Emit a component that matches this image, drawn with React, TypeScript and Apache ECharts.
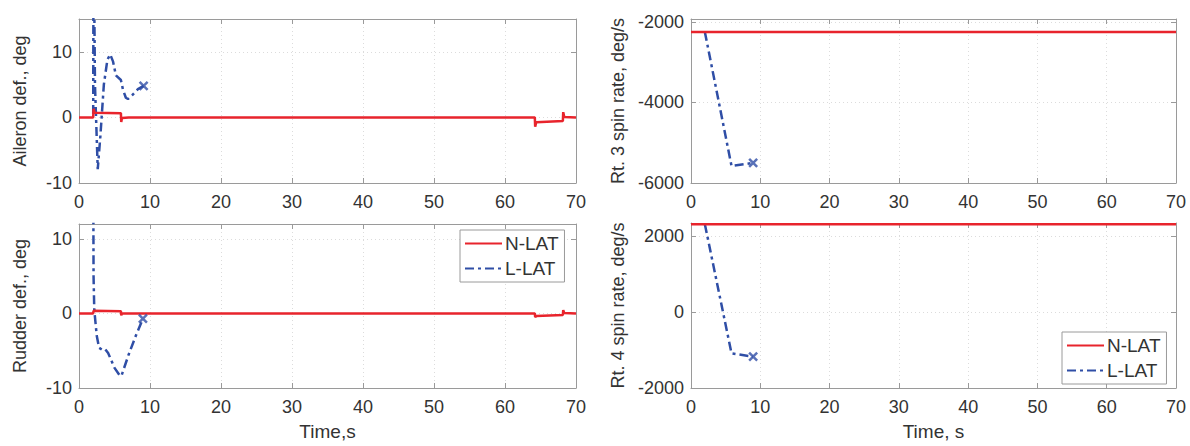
import React, { useEffect, useRef } from "react";
import * as echarts from "echarts";

type P = [number, number];

const X_MIN = 0;
const X_MAX = 70;
const X_INTERVAL = 10;

const aileronNLAT: P[] = [
  [0, 0], [2, 0], [2.05, 1.3], [2.2, 0.7], [5.9, 0.65], [5.95, -0.7], [6.05, -0.1],
  [7, 0], [64.2, 0], [64.25, -1.4], [64.4, -0.75], [68.15, -0.55], [68.2, 0.8],
  [68.35, 0.05], [70, 0],
];
const aileronLLAT: P[] = [
  [2.0, 0.5], [2.05, 30], [2.25, 5], [2.64, -7.9], [3.0, -3], [3.5, 5], [4.0, 8.8],
  [4.4, 9.6], [4.8, 8.5], [5.2, 6.4], [5.9, 5.7], [6.2, 4.2], [6.6, 3.0], [6.9, 2.8],
  [7.5, 3.4], [8.3, 4.3], [9.1, 4.8],
];
const rudderNLAT: P[] = [
  [0, 0], [2, 0], [2.05, 0.35], [5.9, 0.3], [5.95, -0.25], [6.05, 0], [64.2, 0],
  [64.25, -0.5], [64.4, -0.35], [68.15, -0.2], [68.2, 0.45], [68.35, 0.05], [70, 0],
];
const rudderLLAT: P[] = [
  [1.95, 40], [2.05, 5], [2.15, 0.5], [2.5, -3], [2.83, -4.6], [3.3, -4.9], [3.7, -4.8],
  [4.1, -5.3], [5.0, -7.3], [5.8, -8.4], [6.0, -8.3], [7.0, -5.5], [8.0, -3], [9.0, -0.7],
];
const rt3NLAT: P[] = [[0, -2250], [70, -2250]];
const rt3LLAT: P[] = [[2, -2250], [5.85, -5580], [8.97, -5500]];
const rt4NLAT: P[] = [[0, 2310], [70, 2310]];
const rt4LLAT: P[] = [[2, 2310], [5.85, -1090], [8.97, -1175]];

const yNames = ["Aileron def., deg", "Rudder def., deg", "Rt. 3 spin rate, deg/s", "Rt. 4 spin rate, deg/s"];
const xNames = ["", "Time,s", "", "Time, s"];
const yMins = [-10, -10, -6000, -2000];
const yMaxs = [15, 12, -1930, 2340];
const yIntervals = [10, 10, 2000, 2000];
const legendNames = ["N-LAT", "L-LAT"];

const RED = "#e8242c";
const BLUE = "#2f4ea6";
const TEXT = "#333333";
const AXIS = "#9a9a9a";
const FONT = "Liberation Sans";

export default function App() {
  const ref = useRef<HTMLDivElement>(null);
  useEffect(() => {
    if (!ref.current) return;
    const chart = echarts.init(ref.current, undefined, { renderer: "svg" });
    const grids = [
      { left: 79, top: 19, width: 497, height: 164 },
      { left: 79, top: 224, width: 497, height: 164 },
      { left: 691, top: 19, width: 485, height: 164 },
      { left: 691, top: 223, width: 485, height: 165 },
    ];
    const yGaps = [50, 50, 64, 64];
    const xAxes: any[] = [];
    const yAxes: any[] = [];
    for (let i = 0; i < 4; i++) {
      xAxes.push({
        type: "value", gridIndex: i, min: X_MIN, max: X_MAX, interval: X_INTERVAL,
        name: xNames[i], nameLocation: "middle", nameGap: 34,
        nameTextStyle: { color: TEXT, fontSize: 19, fontFamily: FONT },
        axisLine: { show: true, onZero: false, lineStyle: { color: AXIS, width: 1 } },
        axisTick: { show: true, inside: true, length: 5, lineStyle: { color: AXIS } },
        axisLabel: { color: TEXT, fontSize: 18, fontFamily: FONT, margin: 10 },
        splitLine: { show: true, lineStyle: { color: "#dcdcdc", type: [1, 3], width: 1 } },
      });
      const iv = yIntervals[i];
      yAxes.push({
        type: "value", gridIndex: i, min: yMins[i], max: yMaxs[i], interval: iv,
        name: yNames[i], nameLocation: "middle", nameRotate: 90, nameGap: yGaps[i],
        nameTextStyle: { color: TEXT, fontSize: 18, fontFamily: FONT },
        axisLine: { show: true, onZero: false, lineStyle: { color: AXIS, width: 1 } },
        axisTick: { show: true, inside: true, length: 5, lineStyle: { color: AXIS } },
        axisLabel: {
          color: TEXT, fontSize: 18, fontFamily: FONT, margin: 7,
          formatter: (v: number) => (Math.abs(v % iv) < 1e-9 ? String(v) : ""),
        },
        splitLine: { show: true, lineStyle: { color: "#dcdcdc", type: [1, 3], width: 1 } },
      });
    }
    for (let i = 0; i < 4; i++) {
      xAxes.push({
        type: "value", gridIndex: i, position: "top", min: X_MIN, max: X_MAX, interval: X_INTERVAL,
        axisLine: { show: true, onZero: false, lineStyle: { color: AXIS, width: 1 } },
        axisTick: { show: true, inside: true, length: 5, lineStyle: { color: AXIS } },
        axisLabel: { show: false }, splitLine: { show: false },
      });
      yAxes.push({
        type: "value", gridIndex: i, position: "right", min: yMins[i], max: yMaxs[i], interval: yIntervals[i],
        axisLine: { show: true, onZero: false, lineStyle: { color: AXIS, width: 1 } },
        axisTick: { show: true, inside: true, length: 5, lineStyle: { color: AXIS } },
        axisLabel: { show: false }, splitLine: { show: false },
      });
    }
    const nlat = [aileronNLAT, rudderNLAT, rt3NLAT, rt4NLAT];
    const llat = [aileronLLAT, rudderLLAT, rt3LLAT, rt4LLAT];
    const series: any[] = [];
    for (let i = 0; i < 4; i++) {
      series.push({
        name: legendNames[1], type: "line", xAxisIndex: i, yAxisIndex: i, data: llat[i],
        symbol: "none", clip: true, z: 2,
        lineStyle: { color: BLUE, width: 2.5, type: [9, 4, 3, 4] }, itemStyle: { color: BLUE },
      });
      series.push({
        name: legendNames[0], type: "line", xAxisIndex: i, yAxisIndex: i, data: nlat[i],
        symbol: "none", clip: true, z: 3,
        lineStyle: { color: RED, width: 2.5, type: "solid" }, itemStyle: { color: RED },
      });
      const last = llat[i][llat[i].length - 1];
      series.push({
        name: "end" + i, type: "scatter", xAxisIndex: i, yAxisIndex: i, data: [last],
        symbol: "path://M0,0L10,10M10,0L0,10", symbolSize: 8, z: 4,
        itemStyle: { color: "transparent", borderColor: BLUE, borderWidth: 2.5 },
      });
    }
    const legendBase = {
      orient: "vertical", data: legendNames, itemWidth: 37, itemHeight: 14, itemGap: 6,
      backgroundColor: "#ffffff", borderColor: AXIS, borderWidth: 1, borderRadius: 0,
      padding: [4, 6, 4, 4], selectedMode: false,
      itemStyle: { opacity: 0 },
      textStyle: { color: TEXT, fontSize: 19, fontFamily: FONT, padding: [0, 0, 0, -2] },
    };
    chart.setOption({
      animation: false,
      backgroundColor: "#ffffff",
      grid: grids,
      xAxis: xAxes,
      yAxis: yAxes,
      legend: [
        { ...legendBase, id: "l1", left: 460, top: 230 },
        { ...legendBase, id: "l2", left: 1062, top: 332 },
      ],
      series,
    });
    return () => chart.dispose();
  }, []);
  return (
    <div
      ref={ref}
      style={{ position: "fixed", left: 0, top: 0, width: 1190, height: 446, background: "#fff" }}
    />
  );
}
